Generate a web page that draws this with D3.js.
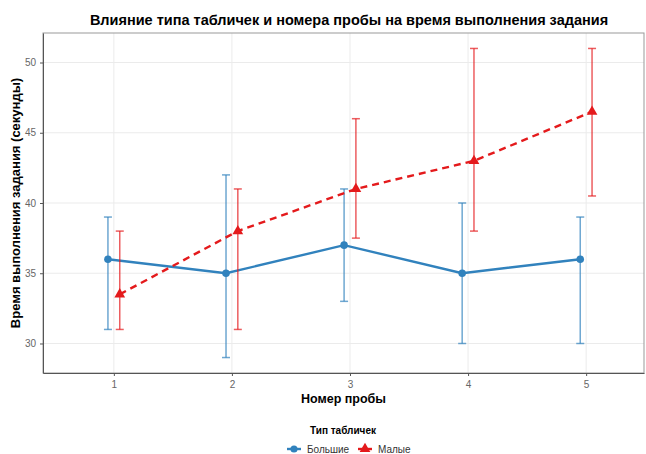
<!DOCTYPE html>
<html>
<head>
<meta charset="utf-8">
<script src="https://cdn.jsdelivr.net/npm/d3@7"></script>
<style>
  body { margin: 0; background: #fff; }
  text { font-family: "Liberation Sans", Arial, sans-serif; }
</style>
</head>
<body>
<svg id="chart"></svg>
<script>
// values
const trials = [1, 2, 3, 4, 5];
const groups = ['Большие', 'Малые'];
const bigMean = [36, 35, 37, 35, 36];
const bigLow = [31, 29, 33, 30, 30];
const bigHigh = [39, 42, 41, 40, 39];
const smallMean = [33.5, 38, 41, 43, 46.5];
const smallLow = [31, 31, 37.5, 38, 40.5];
const smallHigh = [38, 41, 46, 51, 51];
const yTicks = [30, 35, 40, 45, 50];

const width = 646, height = 454;
const margin = {top: 33, right: 2, bottom: 81, left: 43};
const colors = {'Большие': '#3182bd', 'Малые': '#e41a1c'};
const dodge = {'Большие': -0.05, 'Малые': 0.05};

const svg = d3.select('#chart')
  .attr('width', width)
  .attr('height', height);

const x = d3.scaleLinear()
  .domain([0.4, 5.49])
  .range([margin.left, width - margin.right]);
const y = d3.scaleLinear()
  .domain([27.9, 52.1])
  .range([height - margin.bottom, margin.top]);

// grid
const grid = svg.append('g');
grid.selectAll('.gx')
  .data(trials)
  .enter().append('line')
  .attr('x1', d => x(d)).attr('x2', d => x(d))
  .attr('y1', margin.top).attr('y2', height - margin.bottom)
  .attr('stroke', '#ebebeb').attr('stroke-width', 1);
grid.selectAll('.gy')
  .data(yTicks)
  .enter().append('line')
  .attr('x1', margin.left).attr('x2', width - margin.right)
  .attr('y1', d => y(d)).attr('y2', d => y(d))
  .attr('stroke', '#ebebeb').attr('stroke-width', 1);

// panel border
svg.append('rect')
  .attr('x', margin.left).attr('y', margin.top)
  .attr('width', width - margin.right - margin.left)
  .attr('height', height - margin.bottom - margin.top)
  .attr('fill', 'none').attr('stroke', '#999').attr('stroke-width', 1);

// axes
const xAxis = svg.append('g')
  .attr('transform', `translate(0,${height - margin.bottom})`)
  .call(d3.axisBottom(x).tickValues(trials).tickSize(3).tickSizeOuter(0).tickPadding(5).tickFormat(d3.format('d')));
const yAxis = svg.append('g')
  .attr('transform', `translate(${margin.left},0)`)
  .call(d3.axisLeft(y).tickValues(yTicks).tickSize(3).tickSizeOuter(0).tickPadding(4));
[xAxis, yAxis].forEach(a => {
  a.select('.domain').attr('stroke', '#555');
  a.selectAll('.tick line').attr('stroke', '#555');
  a.selectAll('.tick text').attr('fill', '#666').style('font-size', '10px');
});

const series = [
  {name: 'Большие', mean: bigMean, low: bigLow, high: bigHigh, dash: null},
  {name: 'Малые', mean: smallMean, low: smallLow, high: smallHigh, dash: '7,5'}
];

const line = d3.line()
  .x(d => x(d.t + d.off))
  .y(d => y(d.m));

series.forEach(s => {
  const pts = trials.map((t, i) => ({t, off: dodge[s.name], m: s.mean[i], lo: s.low[i], hi: s.high[i]}));
  const g = svg.append('g');
  const c = colors[s.name];

  // error bars
  const eb = g.selectAll('.eb').data(pts).enter().append('g')
    .attr('stroke', c).attr('stroke-opacity', 0.7).attr('stroke-width', 1.5);
  eb.append('line')
    .attr('x1', d => x(d.t + d.off)).attr('x2', d => x(d.t + d.off))
    .attr('y1', d => y(d.lo)).attr('y2', d => y(d.hi));
  eb.append('line')
    .attr('x1', d => x(d.t + d.off) - 4).attr('x2', d => x(d.t + d.off) + 4)
    .attr('y1', d => y(d.lo)).attr('y2', d => y(d.lo));
  eb.append('line')
    .attr('x1', d => x(d.t + d.off) - 4).attr('x2', d => x(d.t + d.off) + 4)
    .attr('y1', d => y(d.hi)).attr('y2', d => y(d.hi));

  g.append('path')
    .datum(pts)
    .attr('d', line)
    .attr('fill', 'none')
    .attr('stroke', c)
    .attr('stroke-width', 2.4)
    .attr('stroke-dasharray', s.dash);

  const sym = s.name === 'Большие' ? d3.symbolCircle : d3.symbolTriangle;
  g.selectAll('.pt').data(pts).enter().append('path')
    .attr('d', d3.symbol().type(sym).size(s.name === 'Большие' ? 45 : 50))
    .attr('transform', d => `translate(${x(d.t + d.off)},${y(d.m)})`)
    .attr('fill', c);
});

// title and axis labels
svg.append('text')
  .attr('x', 349).attr('y', 25)
  .attr('text-anchor', 'middle')
  .style('font-size', '14.5px').style('font-weight', 'bold')
  .text('Влияние типа табличек и номера пробы на время выполнения задания');

svg.append('text')
  .attr('x', (margin.left + width - margin.right) / 2).attr('y', 403)
  .attr('text-anchor', 'middle')
  .style('font-size', '12.5px').style('font-weight', 'bold')
  .text('Номер пробы');

svg.append('text')
  .attr('transform', `translate(20,${(margin.top + height - margin.bottom) / 2}) rotate(-90)`)
  .attr('text-anchor', 'middle')
  .style('font-size', '13px').style('font-weight', 'bold')
  .text('Время выполнения задания (секунды)');

// legend
svg.append('text')
  .attr('x', 343).attr('y', 434)
  .attr('text-anchor', 'middle')
  .style('font-size', '10px').style('font-weight', 'bold')
  .text('Тип табличек');

const legend = svg.append('g').attr('transform', 'translate(0,449)');
const legX = [294, 365];
groups.forEach((name, i) => {
  const lg = legend.append('g').attr('transform', `translate(${legX[i]},0)`);
  lg.append('line').attr('x1', -7).attr('x2', 7).attr('stroke', colors[name]).attr('stroke-width', 2.4);
  lg.append('path')
    .attr('d', d3.symbol().type(i === 0 ? d3.symbolCircle : d3.symbolTriangle).size(i === 0 ? 40 : 50))
    .attr('fill', colors[name]);
  lg.append('text')
    .attr('x', 13).attr('y', 3.5)
    .style('font-size', '10px').attr('fill', '#333')
    .text(name);
});
</script>
</body>
</html>
